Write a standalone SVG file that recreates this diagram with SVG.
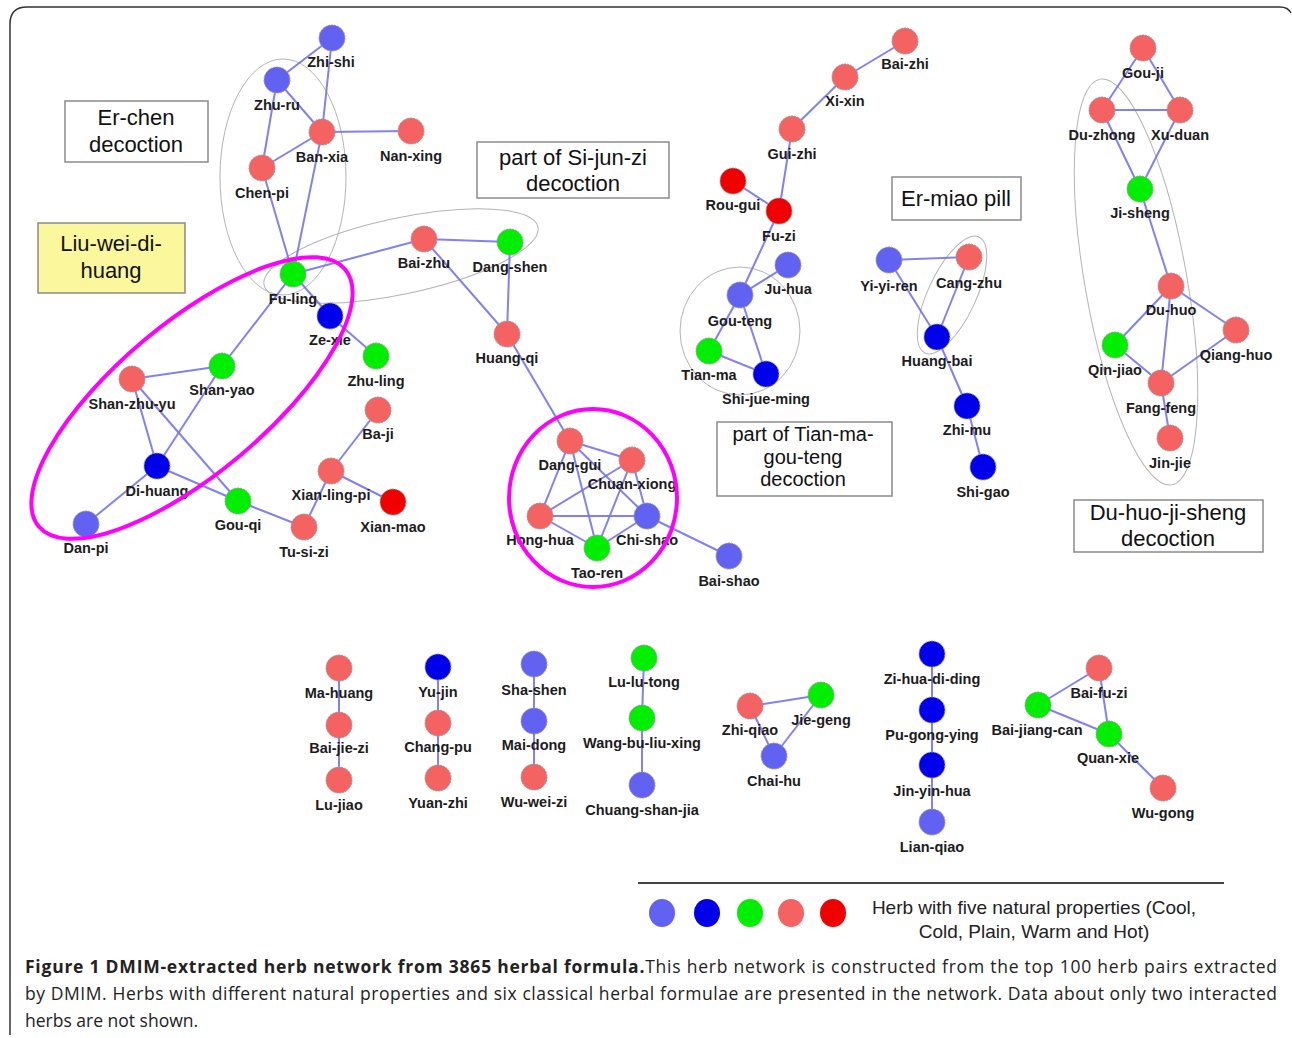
<svg xmlns="http://www.w3.org/2000/svg" width="1292" height="1038" viewBox="0 0 1292 1038">
<style>
.frame{fill:none;stroke:#333;stroke-width:1.5}
.e line{stroke:#7373f3;stroke-width:2;stroke-opacity:.9}
.n{stroke:#9a9a9a;stroke-width:1;stroke-dasharray:2 1}
.cool{fill:#6262f2}.cold{fill:#0000ea}.plain{fill:#00ee00}.warm{fill:#f46262}.hot{fill:#f00000}
.lb{font-family:"Liberation Sans",Arial,sans-serif;font-weight:bold;font-size:14.5px;fill:#1c1c1c;text-anchor:middle}
.grp{fill:none;stroke:#b4b4b4;stroke-width:1}
.mag{fill:none;stroke:#ff00ff;stroke-width:4}
.box{fill:#fff;stroke:#8a8a8a;stroke-width:1.5}
.yel{fill:#fbf79c;stroke:#8a8a8a;stroke-width:1.5}
.bt{font-family:"Liberation Sans",Arial,sans-serif;font-size:22px;fill:#111;text-anchor:middle}
.bt2{font-family:"Liberation Sans",Arial,sans-serif;font-size:20px;fill:#111;text-anchor:middle}
.lg{font-family:"Liberation Sans",Arial,sans-serif;font-size:19px;fill:#222;text-anchor:middle}
.cap{font-family:"Open Sans","Noto Sans",sans-serif;font-size:17.5px;fill:#222}
</style>
<path class="frame" d="M10,1035 L10,24 Q10,7 27,7 L1280,7 Q1288,7 1291,13"/>
<g id="formula-groups">
<ellipse class="grp" cx="283" cy="177" rx="63" ry="118"/>
<ellipse class="grp" cx="401" cy="256" rx="140" ry="38" transform="rotate(-12 401 256)"/>
<ellipse class="grp" cx="740" cy="331" rx="60" ry="64"/>
<ellipse class="grp" cx="952" cy="295" rx="64" ry="24" transform="rotate(-65 952 295)"/>
<ellipse class="grp" cx="1136" cy="282" rx="206" ry="51" transform="rotate(80 1136 282)"/>
</g>
<g id="boxes">
<g id="box-erchen"><rect class="box" x="65" y="101" width="143" height="61"/><text class="bt" x="136" y="125">Er-chen</text><text class="bt" x="136" y="152">decoction</text></g>
<g id="box-liuwei"><rect class="yel" x="38" y="223" width="147" height="70"/><text class="bt" x="111" y="251">Liu-wei-di-</text><text class="bt" x="111" y="278">huang</text></g>
<g id="box-sijunzi"><rect class="box" x="477" y="142" width="192" height="56"/><text class="bt" x="573" y="165">part of Si-jun-zi</text><text class="bt" x="573" y="191">decoction</text></g>
<g id="box-ermiao"><rect class="box" x="892" y="177" width="129" height="43"/><text class="bt" x="956" y="206">Er-miao pill</text></g>
<g id="box-tianma"><rect class="box" x="717" y="422" width="175" height="74"/><text class="bt2" x="803" y="441">part of Tian-ma-</text><text class="bt2" x="803" y="463.5">gou-teng</text><text class="bt2" x="803" y="486">decoction</text></g>
<g id="box-duhuo"><rect class="box" x="1074" y="500" width="189" height="52"/><text class="bt" x="1168" y="520">Du-huo-ji-sheng</text><text class="bt" x="1168" y="546">decoction</text></g>
</g>
<g id="connectors" class="e">
<line x1="332" y1="38" x2="277" y2="80"/>
<line x1="332" y1="38" x2="322" y2="132"/>
<line x1="277" y1="80" x2="322" y2="132"/>
<line x1="277" y1="80" x2="262" y2="168"/>
<line x1="322" y1="132" x2="411" y2="131"/>
<line x1="322" y1="132" x2="262" y2="168"/>
<line x1="262" y1="168" x2="293" y2="274"/>
<line x1="322" y1="132" x2="293" y2="274"/>
<line x1="293" y1="274" x2="424" y2="239"/>
<line x1="424" y1="239" x2="510" y2="242"/>
<line x1="424" y1="239" x2="507" y2="334"/>
<line x1="510" y1="242" x2="507" y2="334"/>
<line x1="507" y1="334" x2="570" y2="441"/>
<line x1="293" y1="274" x2="222" y2="366"/>
<line x1="293" y1="274" x2="330" y2="316"/>
<line x1="330" y1="316" x2="376" y2="356"/>
<line x1="132" y1="379" x2="222" y2="366"/>
<line x1="132" y1="379" x2="157" y2="466"/>
<line x1="132" y1="379" x2="238" y2="501"/>
<line x1="222" y1="366" x2="157" y2="466"/>
<line x1="157" y1="466" x2="86" y2="524"/>
<line x1="157" y1="466" x2="238" y2="501"/>
<line x1="238" y1="501" x2="304" y2="527"/>
<line x1="304" y1="527" x2="331" y2="471"/>
<line x1="331" y1="471" x2="378" y2="410"/>
<line x1="331" y1="471" x2="393" y2="502"/>
<line x1="570" y1="441" x2="632" y2="460"/>
<line x1="570" y1="441" x2="540" y2="516"/>
<line x1="570" y1="441" x2="647" y2="516"/>
<line x1="570" y1="441" x2="597" y2="548"/>
<line x1="632" y1="460" x2="540" y2="516"/>
<line x1="632" y1="460" x2="647" y2="516"/>
<line x1="632" y1="460" x2="597" y2="548"/>
<line x1="540" y1="516" x2="647" y2="516"/>
<line x1="540" y1="516" x2="597" y2="548"/>
<line x1="597" y1="548" x2="647" y2="516"/>
<line x1="647" y1="516" x2="729" y2="556"/>
<line x1="905" y1="41" x2="845" y2="77"/>
<line x1="845" y1="77" x2="792" y2="129"/>
<line x1="792" y1="129" x2="779" y2="211"/>
<line x1="733" y1="181" x2="779" y2="211"/>
<line x1="779" y1="211" x2="740" y2="295"/>
<line x1="740" y1="295" x2="788" y2="265"/>
<line x1="740" y1="295" x2="709" y2="351"/>
<line x1="740" y1="295" x2="766" y2="374"/>
<line x1="709" y1="351" x2="766" y2="374"/>
<line x1="889" y1="260" x2="969" y2="257"/>
<line x1="889" y1="260" x2="937" y2="337"/>
<line x1="969" y1="257" x2="937" y2="337"/>
<line x1="937" y1="337" x2="967" y2="406"/>
<line x1="967" y1="406" x2="983" y2="467"/>
<line x1="1143" y1="48" x2="1102" y2="110"/>
<line x1="1143" y1="48" x2="1180" y2="110"/>
<line x1="1102" y1="110" x2="1180" y2="110"/>
<line x1="1102" y1="110" x2="1140" y2="189"/>
<line x1="1180" y1="110" x2="1140" y2="189"/>
<line x1="1140" y1="189" x2="1171" y2="286"/>
<line x1="1171" y1="286" x2="1115" y2="345"/>
<line x1="1171" y1="286" x2="1236" y2="330"/>
<line x1="1171" y1="286" x2="1161" y2="383"/>
<line x1="1115" y1="345" x2="1161" y2="383"/>
<line x1="1236" y1="330" x2="1161" y2="383"/>
<line x1="1161" y1="383" x2="1170" y2="438"/>
<line x1="339" y1="668" x2="339" y2="725"/>
<line x1="339" y1="725" x2="339" y2="780"/>
<line x1="438" y1="667" x2="438" y2="723"/>
<line x1="438" y1="723" x2="438" y2="778"/>
<line x1="534" y1="664" x2="534" y2="721"/>
<line x1="534" y1="721" x2="534" y2="777"/>
<line x1="644" y1="658" x2="642" y2="718"/>
<line x1="642" y1="718" x2="642" y2="785"/>
<line x1="750" y1="706" x2="821" y2="695"/>
<line x1="750" y1="706" x2="774" y2="756"/>
<line x1="821" y1="695" x2="774" y2="756"/>
<line x1="932" y1="654" x2="932" y2="710"/>
<line x1="932" y1="710" x2="932" y2="765"/>
<line x1="932" y1="765" x2="932" y2="822"/>
<line x1="1099" y1="668" x2="1038" y2="705"/>
<line x1="1099" y1="668" x2="1109" y2="734"/>
<line x1="1038" y1="705" x2="1109" y2="734"/>
<line x1="1109" y1="734" x2="1163" y2="788"/>
</g>
<g id="nodes">
<g id="zhi-shi"><circle class="n cool" cx="332" cy="38" r="13"/><text class="lb" x="331" y="67">Zhi-shi</text></g>
<g id="zhu-ru"><circle class="n cool" cx="277" cy="80" r="13"/><text class="lb" x="277" y="110">Zhu-ru</text></g>
<g id="ban-xia"><circle class="n warm" cx="322" cy="132" r="13"/><text class="lb" x="322" y="162">Ban-xia</text></g>
<g id="nan-xing"><circle class="n warm" cx="411" cy="131" r="13"/><text class="lb" x="411" y="161">Nan-xing</text></g>
<g id="chen-pi"><circle class="n warm" cx="262" cy="168" r="13"/><text class="lb" x="262" y="198">Chen-pi</text></g>
<g id="fu-ling"><circle class="n plain" cx="293" cy="274" r="13"/><text class="lb" x="293" y="304">Fu-ling</text></g>
<g id="bai-zhu"><circle class="n warm" cx="424" cy="239" r="13"/><text class="lb" x="424" y="268">Bai-zhu</text></g>
<g id="dang-shen"><circle class="n plain" cx="510" cy="242" r="13"/><text class="lb" x="510" y="272">Dang-shen</text></g>
<g id="huang-qi"><circle class="n warm" cx="507" cy="334" r="13"/><text class="lb" x="507" y="363">Huang-qi</text></g>
<g id="ze-xie"><circle class="n cold" cx="330" cy="316" r="13"/><text class="lb" x="330" y="345">Ze-xie</text></g>
<g id="zhu-ling"><circle class="n plain" cx="376" cy="356" r="13"/><text class="lb" x="376" y="386">Zhu-ling</text></g>
<g id="shan-yao"><circle class="n plain" cx="222" cy="366" r="13"/><text class="lb" x="222" y="395">Shan-yao</text></g>
<g id="shan-zhu-yu"><circle class="n warm" cx="132" cy="379" r="13"/><text class="lb" x="132" y="409">Shan-zhu-yu</text></g>
<g id="di-huang"><circle class="n cold" cx="157" cy="466" r="13"/><text class="lb" x="157" y="496">Di-huang</text></g>
<g id="dan-pi"><circle class="n cool" cx="86" cy="524" r="13"/><text class="lb" x="86" y="553">Dan-pi</text></g>
<g id="gou-qi"><circle class="n plain" cx="238" cy="501" r="13"/><text class="lb" x="238" y="530">Gou-qi</text></g>
<g id="tu-si-zi"><circle class="n warm" cx="304" cy="527" r="13"/><text class="lb" x="304" y="557">Tu-si-zi</text></g>
<g id="ba-ji"><circle class="n warm" cx="378" cy="410" r="13"/><text class="lb" x="378" y="439">Ba-ji</text></g>
<g id="xian-ling-pi"><circle class="n warm" cx="331" cy="471" r="13"/><text class="lb" x="331" y="500">Xian-ling-pi</text></g>
<g id="xian-mao"><circle class="n hot" cx="393" cy="502" r="13"/><text class="lb" x="393" y="532">Xian-mao</text></g>
<g id="dang-gui"><circle class="n warm" cx="570" cy="441" r="13"/><text class="lb" x="570" y="470">Dang-gui</text></g>
<g id="chuan-xiong"><circle class="n warm" cx="632" cy="460" r="13"/><text class="lb" x="632" y="489">Chuan-xiong</text></g>
<g id="hong-hua"><circle class="n warm" cx="540" cy="516" r="13"/><text class="lb" x="540" y="545">Hong-hua</text></g>
<g id="chi-shao"><circle class="n cool" cx="647" cy="516" r="13"/><text class="lb" x="647" y="545">Chi-shao</text></g>
<g id="tao-ren"><circle class="n plain" cx="597" cy="548" r="13"/><text class="lb" x="597" y="578">Tao-ren</text></g>
<g id="bai-shao"><circle class="n cool" cx="729" cy="556" r="13"/><text class="lb" x="729" y="586">Bai-shao</text></g>
<g id="bai-zhi"><circle class="n warm" cx="905" cy="41" r="13"/><text class="lb" x="905" y="69">Bai-zhi</text></g>
<g id="xi-xin"><circle class="n warm" cx="845" cy="77" r="13"/><text class="lb" x="845" y="106">Xi-xin</text></g>
<g id="gui-zhi"><circle class="n warm" cx="792" cy="129" r="13"/><text class="lb" x="792" y="159">Gui-zhi</text></g>
<g id="rou-gui"><circle class="n hot" cx="733" cy="181" r="13"/><text class="lb" x="733" y="210">Rou-gui</text></g>
<g id="fu-zi"><circle class="n hot" cx="779" cy="211" r="13"/><text class="lb" x="779" y="241">Fu-zi</text></g>
<g id="ju-hua"><circle class="n cool" cx="788" cy="265" r="13"/><text class="lb" x="788" y="294">Ju-hua</text></g>
<g id="gou-teng"><circle class="n cool" cx="740" cy="295" r="13"/><text class="lb" x="740" y="326">Gou-teng</text></g>
<g id="tian-ma"><circle class="n plain" cx="709" cy="351" r="13"/><text class="lb" x="709" y="380">Tian-ma</text></g>
<g id="shi-jue-ming"><circle class="n cold" cx="766" cy="374" r="13"/><text class="lb" x="766" y="404">Shi-jue-ming</text></g>
<g id="yi-yi-ren"><circle class="n cool" cx="889" cy="260" r="13"/><text class="lb" x="889" y="291">Yi-yi-ren</text></g>
<g id="cang-zhu"><circle class="n warm" cx="969" cy="257" r="13"/><text class="lb" x="969" y="288">Cang-zhu</text></g>
<g id="huang-bai"><circle class="n cold" cx="937" cy="337" r="13"/><text class="lb" x="937" y="366">Huang-bai</text></g>
<g id="zhi-mu"><circle class="n cold" cx="967" cy="406" r="13"/><text class="lb" x="967" y="435">Zhi-mu</text></g>
<g id="shi-gao"><circle class="n cold" cx="983" cy="467" r="13"/><text class="lb" x="983" y="497">Shi-gao</text></g>
<g id="gou-ji"><circle class="n warm" cx="1143" cy="48" r="13"/><text class="lb" x="1143" y="78">Gou-ji</text></g>
<g id="du-zhong"><circle class="n warm" cx="1102" cy="110" r="13"/><text class="lb" x="1102" y="140">Du-zhong</text></g>
<g id="xu-duan"><circle class="n warm" cx="1180" cy="110" r="13"/><text class="lb" x="1180" y="140">Xu-duan</text></g>
<g id="ji-sheng"><circle class="n plain" cx="1140" cy="189" r="13"/><text class="lb" x="1140" y="218">Ji-sheng</text></g>
<g id="du-huo"><circle class="n warm" cx="1171" cy="286" r="13"/><text class="lb" x="1171" y="315">Du-huo</text></g>
<g id="qin-jiao"><circle class="n plain" cx="1115" cy="345" r="13"/><text class="lb" x="1115" y="375">Qin-jiao</text></g>
<g id="qiang-huo"><circle class="n warm" cx="1236" cy="330" r="13"/><text class="lb" x="1236" y="360">Qiang-huo</text></g>
<g id="fang-feng"><circle class="n warm" cx="1161" cy="383" r="13"/><text class="lb" x="1161" y="413">Fang-feng</text></g>
<g id="jin-jie"><circle class="n warm" cx="1170" cy="438" r="13"/><text class="lb" x="1170" y="468">Jin-jie</text></g>
<g id="ma-huang"><circle class="n warm" cx="339" cy="668" r="13"/><text class="lb" x="339" y="698">Ma-huang</text></g>
<g id="bai-jie-zi"><circle class="n warm" cx="339" cy="725" r="13"/><text class="lb" x="339" y="753">Bai-jie-zi</text></g>
<g id="lu-jiao"><circle class="n warm" cx="339" cy="780" r="13"/><text class="lb" x="339" y="810">Lu-jiao</text></g>
<g id="yu-jin"><circle class="n cold" cx="438" cy="667" r="13"/><text class="lb" x="438" y="697">Yu-jin</text></g>
<g id="chang-pu"><circle class="n warm" cx="438" cy="723" r="13"/><text class="lb" x="438" y="752">Chang-pu</text></g>
<g id="yuan-zhi"><circle class="n warm" cx="438" cy="778" r="13"/><text class="lb" x="438" y="808">Yuan-zhi</text></g>
<g id="sha-shen"><circle class="n cool" cx="534" cy="664" r="13"/><text class="lb" x="534" y="695">Sha-shen</text></g>
<g id="mai-dong"><circle class="n cool" cx="534" cy="721" r="13"/><text class="lb" x="534" y="750">Mai-dong</text></g>
<g id="wu-wei-zi"><circle class="n warm" cx="534" cy="777" r="13"/><text class="lb" x="534" y="807">Wu-wei-zi</text></g>
<g id="lu-lu-tong"><circle class="n plain" cx="644" cy="658" r="13"/><text class="lb" x="644" y="687">Lu-lu-tong</text></g>
<g id="wang-bu-liu-xing"><circle class="n plain" cx="642" cy="718" r="13"/><text class="lb" x="642" y="748">Wang-bu-liu-xing</text></g>
<g id="chuang-shan-jia"><circle class="n cool" cx="642" cy="785" r="13"/><text class="lb" x="642" y="815">Chuang-shan-jia</text></g>
<g id="zhi-qiao"><circle class="n warm" cx="750" cy="706" r="13"/><text class="lb" x="750" y="735">Zhi-qiao</text></g>
<g id="jie-geng"><circle class="n plain" cx="821" cy="695" r="13"/><text class="lb" x="821" y="725">Jie-geng</text></g>
<g id="chai-hu"><circle class="n cool" cx="774" cy="756" r="13"/><text class="lb" x="774" y="786">Chai-hu</text></g>
<g id="zi-hua-di-ding"><circle class="n cold" cx="932" cy="654" r="13"/><text class="lb" x="932" y="684">Zi-hua-di-ding</text></g>
<g id="pu-gong-ying"><circle class="n cold" cx="932" cy="710" r="13"/><text class="lb" x="932" y="740">Pu-gong-ying</text></g>
<g id="jin-yin-hua"><circle class="n cold" cx="932" cy="765" r="13"/><text class="lb" x="932" y="796">Jin-yin-hua</text></g>
<g id="lian-qiao"><circle class="n cool" cx="932" cy="822" r="13"/><text class="lb" x="932" y="852">Lian-qiao</text></g>
<g id="bai-fu-zi"><circle class="n warm" cx="1099" cy="668" r="13"/><text class="lb" x="1099" y="698">Bai-fu-zi</text></g>
<g id="bai-jiang-can"><circle class="n plain" cx="1038" cy="705" r="13"/><text class="lb" x="1037" y="735">Bai-jiang-can</text></g>
<g id="quan-xie"><circle class="n plain" cx="1109" cy="734" r="13"/><text class="lb" x="1108" y="763">Quan-xie</text></g>
<g id="wu-gong"><circle class="n warm" cx="1163" cy="788" r="13"/><text class="lb" x="1163" y="818">Wu-gong</text></g>
</g>
<g id="highlight-groups">
<ellipse class="mag" cx="192" cy="398" rx="200" ry="75" transform="rotate(-40 192 398)"/>
<ellipse class="mag" cx="593" cy="498" rx="84" ry="89"/>
</g>
<g id="legend">
<line x1="638" y1="883" x2="1224" y2="883" stroke="#444" stroke-width="2"/>
<ellipse class="cool" cx="662" cy="913" rx="13" ry="14"/>
<ellipse class="cold" cx="707" cy="913" rx="13" ry="14"/>
<ellipse class="plain" cx="750" cy="913" rx="13" ry="14"/>
<ellipse class="warm" cx="791" cy="913" rx="13" ry="14"/>
<ellipse class="hot" cx="833" cy="913" rx="13" ry="14"/>
<text class="lg" x="1034" y="914">Herb with five natural properties (Cool,</text>
<text class="lg" x="1034" y="938">Cold, Plain, Warm and Hot)</text>
</g>
<g id="caption">
<text class="cap" x="25" y="973" textLength="1252" lengthAdjust="spacing"><tspan font-weight="bold">Figure 1 DMIM-extracted herb network from 3865 herbal formula.</tspan>This herb network is constructed from the top 100 herb pairs extracted</text>
<text class="cap" x="25" y="1000" textLength="1252" lengthAdjust="spacing">by DMIM. Herbs with different natural properties and six classical herbal formulae are presented in the network. Data about only two interacted</text>
<text class="cap" x="25" y="1027">herbs are not shown.</text>
</g>
</svg>
